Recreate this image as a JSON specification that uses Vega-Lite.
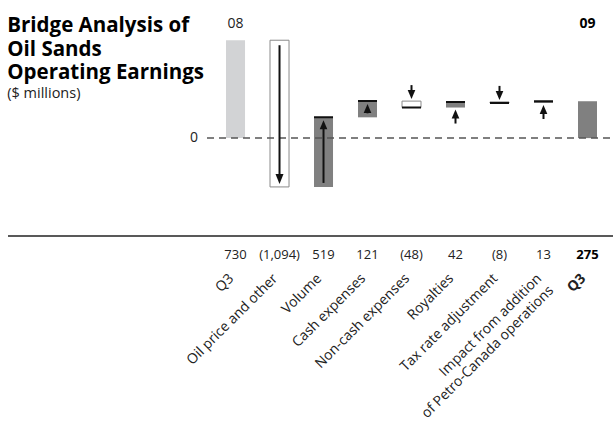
{
  "$schema": "https://vega.github.io/schema/vega-lite/v6.json",
  "width": 605,
  "height": 236,
  "autosize": "none",
  "padding": {"left": 8, "top": 0, "right": 0, "bottom": 189},
  "background": "white",
  "config": {
    "view": {"stroke": null},
    "font": "Open Sans",
    "text": {"font": "Open Sans"}
  },
  "title": {
    "text": ["Bridge Analysis of", "Oil Sands", "Operating Earnings"],
    "subtitle": "($ millions)",
    "anchor": "start",
    "frame": "bounds",
    "orient": "top",
    "font": "Open Sans",
    "fontSize": 20.5,
    "fontWeight": "bold",
    "lineHeight": 23.5,
    "color": "#000000",
    "subtitleFont": "Open Sans",
    "subtitleFontSize": 14.5,
    "subtitleColor": "#222222",
    "subtitlePadding": 3,
    "offset": 0,
    "dy": 100
  },
  "data": {
    "values": [
      {"category": "Q3 08", "value": 730, "start": 0, "end": 730, "kind": "total08", "period": "08"},
      {"category": "Oil price and other", "value": -1094, "start": 730, "end": -364, "kind": "down", "period": ""},
      {"category": "Volume", "value": 519, "start": -364, "end": 155, "kind": "up", "period": ""},
      {"category": "Cash expenses", "value": 121, "start": 155, "end": 276, "kind": "up", "period": ""},
      {"category": "Non-cash expenses", "value": -48, "start": 276, "end": 228, "kind": "down", "period": ""},
      {"category": "Royalties", "value": 42, "start": 228, "end": 270, "kind": "up", "period": ""},
      {"category": "Tax rate adjustment", "value": -8, "start": 270, "end": 262, "kind": "down", "period": ""},
      {"category": "Impact from addition of Petro-Canada operations", "value": 13, "start": 262, "end": 275, "kind": "up", "period": ""},
      {"category": "Q3 09", "value": 275, "start": 0, "end": 275, "kind": "total09", "period": "09"}
    ]
  },
  "layer": [
    {
      "mark": {"type": "bar", "strokeWidth": 1},
      "encoding": {
        "x": {
          "field": "category",
          "type": "nominal",
          "sort": null,
          "scale": {"range": [199, 605], "paddingInner": 0.568, "paddingOuter": 0.398, "align": 0.543, "round": false},
          "axis": {
            "title": null,
            "orient": "bottom",
            "domain": false,
            "ticks": false,
            "grid": false,
            "labelAngle": -45,
            "labelAlign": "right",
            "labelBaseline": "middle",
            "labelPadding": 40,
            "labelOffset": -4,
            "labelFont": "Open Sans",
            "labelFontSize": 14,
            "labelColor": "#222222",
            "labelLineHeight": 17,
            "labelLimit": 300,
            "labelExpr": "datum.value == 'Q3 08' || datum.value == 'Q3 09' ? 'Q3' : datum.value == 'Impact from addition of Petro-Canada operations' ? ['Impact from addition', 'of Petro-Canada operations'] : datum.value",
            "labelFontWeight": {"condition": {"test": "datum.value == 'Q3 09'", "value": "bold"}, "value": "normal"}
          }
        },
        "y": {"field": "start", "type": "quantitative", "scale": {"domain": [-730, 1030], "nice": false, "zero": false}, "axis": null},
        "y2": {"field": "end"},
        "color": {
          "field": "kind",
          "type": "nominal",
          "scale": {"domain": ["total08", "down", "up", "total09"], "range": ["#d2d3d5", "#ffffff", "#808080", "#808080"]},
          "legend": null
        },
        "stroke": {"condition": {"test": "datum.kind == 'down'", "value": "#8a8a8a"}, "value": null}
      }
    },
    {
      "data": {"values": [{}]},
      "mark": {"type": "rule", "color": "#555555", "strokeWidth": 1.5, "strokeDash": [7, 5]},
      "encoding": {
        "x": {"datum": "Q3 08", "bandPosition": -1.0},
        "x2": {"value": "width"},
        "y": {"datum": 0, "type": "quantitative"}
      }
    },
    {
      "data": {"values": [{}]},
      "mark": {"type": "rule", "color": "#222222", "strokeWidth": 1.5},
      "encoding": {
        "x": {"value": 0},
        "x2": {"value": "width"},
        "y": {"datum": -730, "type": "quantitative"}
      }
    },
    {
      "data": {"values": [{}]},
      "mark": {"type": "text", "align": "right", "baseline": "middle", "dx": -9, "fontSize": 14, "color": "#222222"},
      "encoding": {
        "x": {"datum": "Q3 08", "bandPosition": -1.0},
        "y": {"datum": 0, "type": "quantitative"},
        "text": {"value": "0"}
      }
    },
    {
      "transform": [{"filter": "(datum.kind == 'up' || datum.kind == 'down') && datum.category != 'Oil price and other'"}],
      "mark": {"type": "bar", "stroke": "#111111", "strokeWidth": 2, "fill": "#111111"},
      "encoding": {
        "x": {"field": "category", "type": "nominal", "sort": null},
        "y": {"field": "end", "type": "quantitative"},
        "y2": {"field": "end"}
      }
    },
    {
      "transform": [{"filter": "datum.category == 'Oil price and other'"}],
      "encoding": {"x": {"field": "category", "type": "nominal", "sort": null}},
      "layer": [
        {
          "mark": {"type": "rule", "color": "#111111", "strokeWidth": 2, "yOffset": 5, "y2Offset": -9},
          "encoding": {"y": {"field": "start", "type": "quantitative"}, "y2": {"field": "end"}}
        },
        {
          "mark": {"type": "point", "shape": "M-0.8,-1L0.8,-1L0,1Z", "filled": true, "color": "#111111", "opacity": 1, "size": 100, "yOffset": -8},
          "encoding": {"y": {"field": "end", "type": "quantitative"}}
        }
      ]
    },
    {
      "transform": [{"filter": "datum.category == 'Volume' || datum.category == 'Cash expenses'"}],
      "encoding": {"x": {"field": "category", "type": "nominal", "sort": null}},
      "layer": [
        {
          "mark": {"type": "rule", "color": "#111111", "strokeWidth": 2, "yOffset": -4, "y2Offset": 9},
          "encoding": {"y": {"field": "start", "type": "quantitative"}, "y2": {"field": "end"}}
        },
        {
          "mark": {"type": "point", "shape": "M-0.85,1L0.85,1L0,-1Z", "filled": true, "color": "#111111", "opacity": 1, "size": 81, "yOffset": 7.5},
          "encoding": {"y": {"field": "end", "type": "quantitative"}}
        }
      ]
    },
    {
      "transform": [{"filter": "datum.category == 'Non-cash expenses' || datum.category == 'Tax rate adjustment'"}],
      "encoding": {"x": {"field": "category", "type": "nominal", "sort": null}},
      "layer": [
        {
          "mark": {"type": "rule", "color": "#111111", "strokeWidth": 2, "yOffset": -16, "y2Offset": -9},
          "encoding": {"y": {"field": "start", "type": "quantitative"}, "y2": {"field": "start"}}
        },
        {
          "mark": {"type": "point", "shape": "M-0.85,-1L0.85,-1L0,1Z", "filled": true, "color": "#111111", "opacity": 1, "size": 81, "yOffset": -6.5},
          "encoding": {"y": {"field": "start", "type": "quantitative"}}
        }
      ]
    },
    {
      "transform": [{"filter": "datum.category == 'Royalties' || datum.category == 'Impact from addition of Petro-Canada operations'"}],
      "encoding": {"x": {"field": "category", "type": "nominal", "sort": null}},
      "layer": [
        {
          "mark": {"type": "rule", "color": "#111111", "strokeWidth": 2, "yOffset": 16, "y2Offset": 9},
          "encoding": {"y": {"field": "start", "type": "quantitative"}, "y2": {"field": "start"}}
        },
        {
          "mark": {"type": "point", "shape": "M-0.85,1L0.85,1L0,-1Z", "filled": true, "color": "#111111", "opacity": 1, "size": 81, "yOffset": 6.5},
          "encoding": {"y": {"field": "start", "type": "quantitative"}}
        }
      ]
    },
    {
      "transform": [{"filter": "datum.kind == 'total08'"}],
      "mark": {"type": "text", "baseline": "middle", "fontSize": 14, "color": "#222222"},
      "encoding": {
        "x": {"field": "category", "type": "nominal", "sort": null},
        "y": {"datum": 850, "type": "quantitative"},
        "text": {"field": "period"}
      }
    },
    {
      "transform": [{"filter": "datum.kind == 'total09'"}],
      "mark": {"type": "text", "baseline": "middle", "fontSize": 14, "fontWeight": "bold", "color": "#000000"},
      "encoding": {
        "x": {"field": "category", "type": "nominal", "sort": null},
        "y": {"datum": 850, "type": "quantitative"},
        "text": {"field": "period"}
      }
    },
    {
      "transform": [{"filter": "datum.kind != 'total09'"}],
      "mark": {"type": "text", "baseline": "middle", "fontSize": 13, "color": "#222222"},
      "encoding": {
        "x": {"field": "category", "type": "nominal", "sort": null},
        "y": {"datum": -870, "type": "quantitative"},
        "text": {"field": "value", "type": "quantitative", "format": "(,d"}
      }
    },
    {
      "transform": [{"filter": "datum.kind == 'total09'"}],
      "mark": {"type": "text", "baseline": "middle", "fontSize": 13, "fontWeight": "bold", "color": "#000000"},
      "encoding": {
        "x": {"field": "category", "type": "nominal", "sort": null},
        "y": {"datum": -870, "type": "quantitative"},
        "text": {"field": "value", "type": "quantitative", "format": "(,d"}
      }
    }
  ]
}
